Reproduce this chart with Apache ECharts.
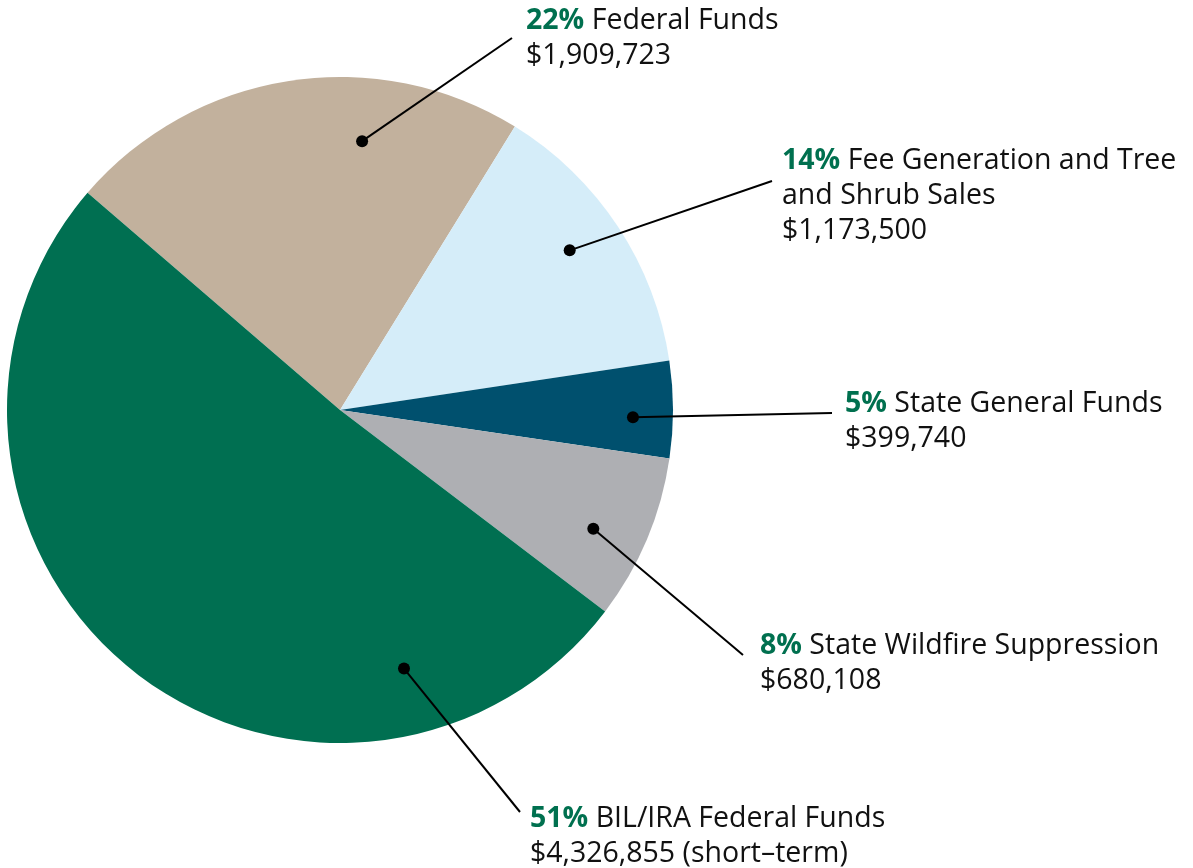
<!DOCTYPE html>
<html>
<head>
    <meta charset="UTF-8">
    <title>Funding sources</title>
    <script src="https://cdn.jsdelivr.net/npm/echarts@6/dist/echarts.min.js"></script>
</head>
<body style="margin:0;background:#fff;">
<div id="chart" style="width:1193px;height:868px;"></div>
<script type="text/javascript">
    // data
    var names = [
        "Federal Funds",
        "Fee Generation and Tree\nand Shrub Sales",
        "State General Funds",
        "State Wildfire Suppression",
        "BIL/IRA Federal Funds"
    ];
    var amounts = [1909723, 1173500, 399740, 680108, 4326855];
    var notes = ["", "", "", "", " (short\u2013term)"];
    var colors = ['#c2b19d', '#d5edf9', '#00506e', '#aeafb3', '#006f51'];

    // layout of labels and leader lines
    var cx = 340, cy = 410, R = 333;
    var dotAngle = [85.3, 34.8, -1.4, -25.1, -76.1];
    var dotRadius = [0.81, 0.84, 0.88, 0.84, 0.80];
    var labelPos = [[526, 3], [782, 143], [845, 386], [760, 628], [530, 801]];
    var lineEnd = [[512, 38], [772, 181], [832, 413], [743, 655], [520, 812]];
    var fontName = 'Open Sans';
    var fontSize = 28.5;

    function dotPoint(i) {
        var a = dotAngle[i] * Math.PI / 180;
        return [cx + R * dotRadius[i] * Math.cos(a), cy - R * dotRadius[i] * Math.sin(a)];
    }

    function money(v) {
        return '$' + v.toString().replace(/\B(?=(\d{3})+(?!\d))/g, ',');
    }

    // leader lines with a dot at the slice end
    var leaders = [];
    names.forEach(function (n, i) {
        var p = dotPoint(i);
        leaders.push({
            type: 'line',
            shape: {x1: p[0], y1: p[1], x2: lineEnd[i][0], y2: lineEnd[i][1]},
            style: {stroke: '#000', lineWidth: 2},
            z: 100
        });
        leaders.push({
            type: 'circle',
            shape: {cx: p[0], cy: p[1], r: 6},
            style: {fill: '#000'},
            z: 101
        });
    });

    var chart = echarts.init(document.getElementById('chart'));
    var option = {
        backgroundColor: '#fff',
        animation: false,
        graphic: leaders,
        series: [{
            type: 'pie',
            center: [cx, cy],
            radius: [0, R],
            startAngle: 139.3,
            clockwise: true,
            percentPrecision: 0,
            silent: true,
            itemStyle: {borderWidth: 0},
            label: {
                show: true,
                position: 'outside',
                overflow: 'none',
                fontFamily: fontName,
                fontSize: fontSize,
                color: '#111',
                formatter: function (p) {
                    var lines = names[p.dataIndex].split('\n');
                    var s = '{p|' + Math.round(p.percent) + '%}{t| ' + lines[0] + '}';
                    for (var k = 1; k < lines.length; k++) {
                        s += '\n{t|' + lines[k] + '}';
                    }
                    s += '\n{t|' + money(p.value) + notes[p.dataIndex] + '}';
                    return s;
                },
                rich: {
                    p: {fontSize: fontSize, fontWeight: 'bold', color: '#00704f', lineHeight: 35, fontFamily: fontName},
                    t: {fontSize: fontSize, color: '#111', lineHeight: 35, fontFamily: fontName}
                }
            },
            labelLine: {show: false},
            labelLayout: function (params) {
                var i = params.dataIndex;
                return {
                    x: labelPos[i][0],
                    y: labelPos[i][1],
                    align: 'left',
                    verticalAlign: 'top'
                };
            },
            data: amounts.map(function (v, i) {
                return {value: v, name: names[i], itemStyle: {color: colors[i]}};
            })
        }]
    };
    chart.setOption(option);
</script>
</body>
</html>
